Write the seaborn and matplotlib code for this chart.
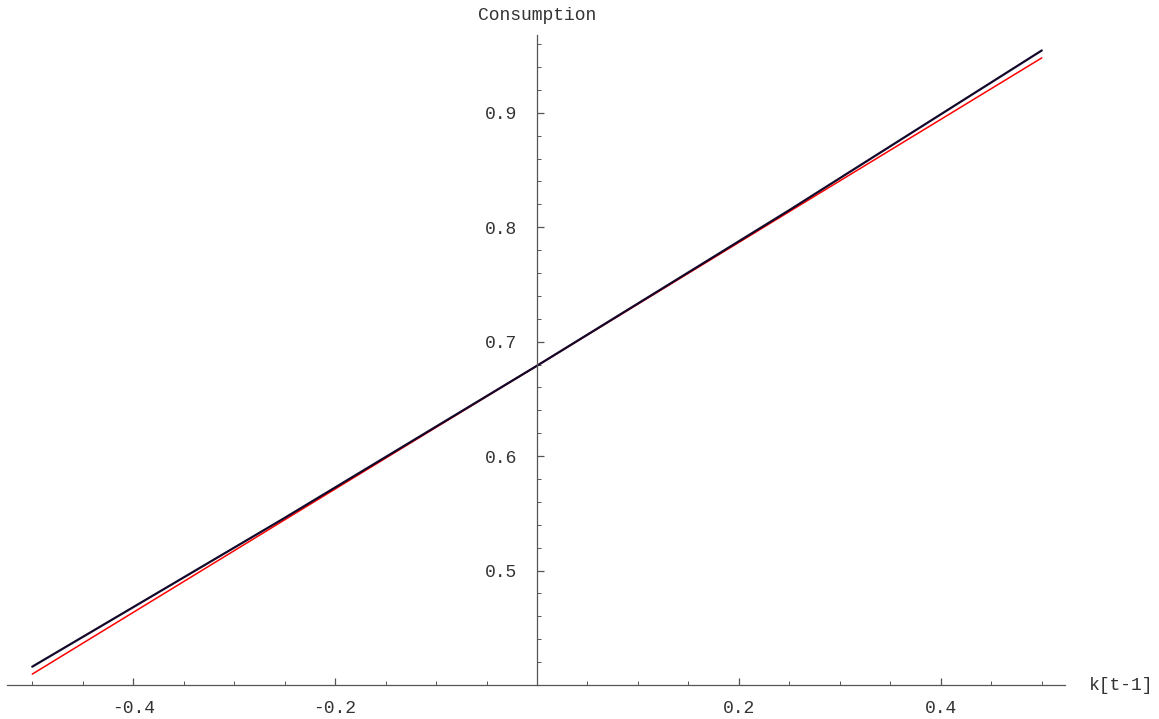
import matplotlib
matplotlib.use('Agg')
import matplotlib.pyplot as plt
import seaborn as sns
import pandas as pd
from matplotlib.ticker import MultipleLocator, FixedLocator

# --- Data ---
k_prev = [-0.5, -0.25, 0.0, 0.25, 0.5]
exact_c = [0.416, 0.546, 0.679, 0.815, 0.9545]    # black curve
approx_c = [0.4095, 0.5443, 0.679, 0.8137, 0.948]  # red (linear approx)

x_major = [-0.4, -0.2, 0.2, 0.4]
x_labels = ['-0.4', '-0.2', '0.2', '0.4']
y_major = [0.5, 0.6, 0.7, 0.8, 0.9]
y_labels = ['0.5', '0.6', '0.7', '0.8', '0.9']

sns.set_style('white')
plt.rcParams['font.family'] = ['Liberation Mono', 'DejaVu Sans Mono']
plt.rcParams['axes.unicode_minus'] = False

df = pd.DataFrame({'k': k_prev, 'exact': exact_c, 'approx': approx_c})

fig = plt.figure(figsize=(11.59, 7.19), dpi=100)
ax = fig.add_axes([7 / 1159, 34 / 719, 1058 / 1159, 650 / 719])

sns.lineplot(data=df, x='k', y='approx', ax=ax, color='#ff0000', linewidth=1.1)
sns.lineplot(data=df, x='k', y='exact', ax=ax, color='#14082a', linewidth=1.6)

ax.set_xlim(-0.525, 0.523)
ax.set_ylim(0.4, 0.968)

# Mathematica style axes crossing at (0, 0.4)
for s in ['top', 'right']:
    ax.spines[s].set_visible(False)
ax.spines['left'].set_position(('data', 0.0))
ax.spines['bottom'].set_position(('data', 0.4))
for s in ['left', 'bottom']:
    ax.spines[s].set_color('#555555')
    ax.spines[s].set_linewidth(0.9)

ax.xaxis.set_major_locator(FixedLocator(x_major))
ax.set_xticklabels(x_labels)
ax.xaxis.set_minor_locator(MultipleLocator(0.05))
ax.yaxis.set_major_locator(FixedLocator(y_major))
ax.set_yticklabels(y_labels)
ax.yaxis.set_minor_locator(MultipleLocator(0.02))

ax.tick_params(which='both', direction='in', color='#555555', labelsize=13,
               labelcolor='#333333')
ax.tick_params(which='major', length=5, width=0.9)
ax.tick_params(which='minor', length=3, width=0.7)
ax.tick_params(axis='x', which='both', bottom=True, pad=11)
ax.tick_params(axis='y', which='both', left=True, pad=14)

ax.set_xlabel('')
ax.set_ylabel('')
ax.text(0.547, 0.4, 'k[t-1]', fontsize=13, ha='left', va='center', color='#333333')
ax.text(0.0, 0.985, 'Consumption', fontsize=13, ha='center', va='center', color='#333333')

fig.savefig('out.png', dpi=100)
